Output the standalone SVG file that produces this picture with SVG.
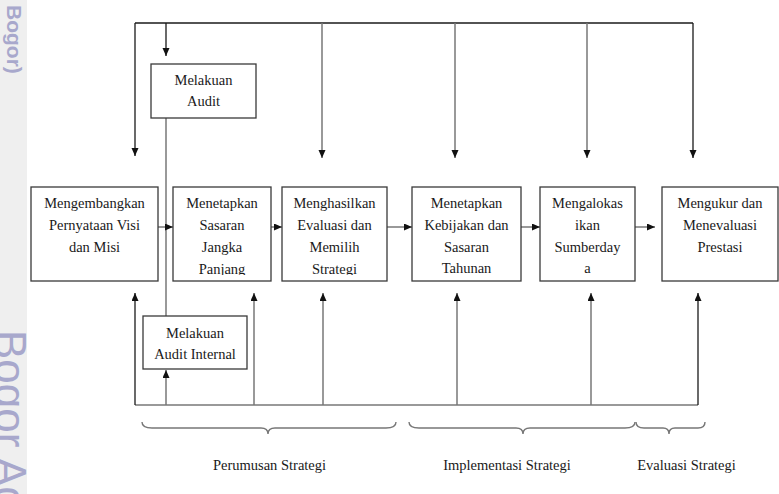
<svg xmlns="http://www.w3.org/2000/svg" width="779" height="494" viewBox="0 0 779 494">
  <style>
    .box { fill: #ffffff; stroke: #3a3a3a; stroke-width: 1.3; }
    .lbl { font-family: "Liberation Serif", "Times New Roman", serif; font-size: 14.5px; fill: #1a1a1a; text-anchor: middle; }
    .ln { fill: none; stroke: #777777; stroke-width: 1.5; }
    .lk { fill: none; stroke: #1a1a1a; stroke-width: 1.3; }
    .brace { fill: none; stroke: #777777; stroke-width: 1.4; }
    .wm { font-family: "Liberation Sans", Arial, sans-serif; fill: #a8a8cc; }
  </style>
  <defs>
    <marker id="ah" markerUnits="userSpaceOnUse" markerWidth="9" markerHeight="8" refX="8" refY="3.5" orient="auto">
      <path d="M0,0 L8,3.5 L0,7 z" fill="#111111"/>
    </marker>
    <clipPath id="clip2"><rect x="173" y="187" width="98" height="88"/></clipPath>
    <clipPath id="clip3"><rect x="282" y="187" width="105" height="88"/></clipPath>
    <clipPath id="strip"><rect x="0" y="0" width="27" height="494"/></clipPath>
  </defs>

  <rect width="779" height="494" fill="#ffffff"/>

  <!-- side strip with vertical wordmarks -->
  <rect x="0" y="0" width="27" height="494" fill="#efefef"/>
  <g clip-path="url(#strip)">
    <text class="wm" transform="translate(7,5) rotate(90)" font-size="21" font-weight="bold">Bogor)</text>
    <text class="wm" transform="translate(-5,330) rotate(90)" font-size="44">Bogor Ag</text>
  </g>

  <!-- connectors -->
  <g id="connectors">
    <!-- top feedback bus -->
    <path class="lk" d="M135,23 H693"/>
    <path class="lk" d="M135,23 V156" marker-end="url(#ah)"/>
    <path class="lk" d="M166,23 V56" marker-end="url(#ah)"/>
    <path class="ln" d="M322,23 V158" marker-end="url(#ah)"/>
    <path class="ln" d="M455,23 V158" marker-end="url(#ah)"/>
    <path class="ln" d="M587,23 V158" marker-end="url(#ah)"/>
    <path class="lk" d="M693,23 V158" marker-end="url(#ah)"/>

    <!-- audit link between the two audit boxes -->
    <path class="ln" d="M166,118 V316"/>

    <!-- main flow -->
    <path class="ln" d="M158,227 H173" marker-end="url(#ah)"/>
    <path class="ln" d="M271,227 H282" marker-end="url(#ah)"/>
    <path class="ln" d="M387,227 H412" marker-end="url(#ah)"/>
    <path class="ln" d="M521,227 H540" marker-end="url(#ah)"/>
    <path class="ln" d="M635,227 H655" marker-end="url(#ah)"/>

    <!-- bottom feedback bus -->
    <path class="ln" d="M135,405 H698" stroke="#555555"/>
    <path class="lk" d="M135,405 V293" marker-end="url(#ah)"/>
    <path class="ln" d="M166,405 V370" marker-end="url(#ah)"/>
    <path class="ln" d="M254,405 V293" marker-end="url(#ah)"/>
    <path class="ln" d="M323,405 V293" marker-end="url(#ah)"/>
    <path class="ln" d="M457,405 V293" marker-end="url(#ah)"/>
    <path class="ln" d="M591,405 V293" marker-end="url(#ah)"/>
    <path class="lk" d="M698,405 V293" marker-end="url(#ah)"/>

    <!-- phase braces -->
    <path class="brace" d="M142,422 Q142,428 152,428 L261,428 Q268,428 268,434 Q268,428 275,428 L386,428 Q396,428 396,422"/>
    <path class="brace" d="M409,422 Q409,428 419,428 L516,428 Q523,428 523,434 Q523,428 530,428 L625,428 Q635,428 635,422"/>
    <path class="brace" d="M636,422 Q636,428 644,428 L663,428 Q669,428 669,434 Q669,428 675,428 L698,428 Q705,428 705,422"/>
  </g>

  <g id="audit">
    <rect class="box" x="151" y="64" width="105" height="54"/>
    <text class="lbl" x="203.5" y="85">Melakuan</text>
    <text class="lbl" x="203.5" y="106">Audit</text>
  </g>

  <g id="audit-internal">
    <rect class="box" x="143" y="316" width="104" height="53"/>
    <text class="lbl" x="195" y="338">Melakuan</text>
    <text class="lbl" x="195" y="359">Audit Internal</text>
  </g>

  <g id="visi-misi">
    <rect class="box" x="31" y="187" width="127" height="94"/>
    <text class="lbl" x="94.5" y="208">Mengembangkan</text>
    <text class="lbl" x="94.5" y="230">Pernyataan Visi</text>
    <text class="lbl" x="94.5" y="252">dan Misi</text>
  </g>

  <g id="sasaran-jangka-panjang">
    <rect class="box" x="173" y="187" width="98" height="94"/>
    <g clip-path="url(#clip2)">
      <text class="lbl" x="222" y="208">Menetapkan</text>
      <text class="lbl" x="222" y="230">Sasaran</text>
      <text class="lbl" x="222" y="252">Jangka</text>
      <text class="lbl" x="222" y="274">Panjang</text>
    </g>
  </g>

  <g id="evaluasi-strategi">
    <rect class="box" x="282" y="187" width="105" height="94"/>
    <g clip-path="url(#clip3)">
      <text class="lbl" x="334.5" y="208">Menghasilkan</text>
      <text class="lbl" x="334.5" y="230">Evaluasi dan</text>
      <text class="lbl" x="334.5" y="252">Memilih</text>
      <text class="lbl" x="334.5" y="274">Strategi</text>
    </g>
  </g>

  <g id="kebijakan">
    <rect class="box" x="412" y="187" width="109" height="94"/>
    <text class="lbl" x="466.5" y="208">Menetapkan</text>
    <text class="lbl" x="466.5" y="230">Kebijakan dan</text>
    <text class="lbl" x="466.5" y="252">Sasaran</text>
    <text class="lbl" x="466.5" y="273">Tahunan</text>
  </g>

  <g id="sumberdaya">
    <rect class="box" x="540" y="187" width="95" height="94"/>
    <text class="lbl" x="587.5" y="208">Mengalokas</text>
    <text class="lbl" x="587.5" y="230">ikan</text>
    <text class="lbl" x="587.5" y="252">Sumberday</text>
    <text class="lbl" x="587.5" y="273">a</text>
  </g>

  <g id="prestasi">
    <rect class="box" x="662" y="187" width="116" height="94"/>
    <text class="lbl" x="720" y="208">Mengukur dan</text>
    <text class="lbl" x="720" y="230">Menevaluasi</text>
    <text class="lbl" x="720" y="252">Prestasi</text>
  </g>

  <g id="phases">
    <text class="lbl" x="269.5" y="470">Perumusan Strategi</text>
    <text class="lbl" x="507" y="470">Implementasi Strategi</text>
    <text class="lbl" x="686.5" y="470">Evaluasi Strategi</text>
  </g>
</svg>
